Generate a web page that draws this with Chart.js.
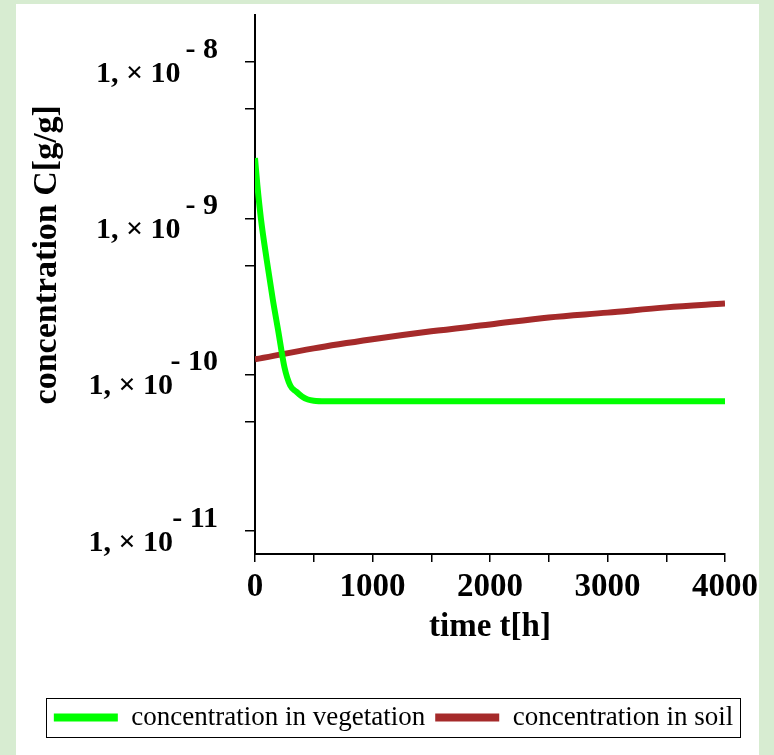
<!DOCTYPE html>
<html>
<head>
<meta charset="utf-8">
<script src="https://cdn.jsdelivr.net/npm/chart.js@4/dist/chart.umd.min.js"></script>
<style>
  html, body { margin: 0; padding: 0; }
  body { width: 774px; height: 755px; background: #d7ecd1; position: relative; overflow: hidden; }
  #panel { position: absolute; left: 16px; top: 4px; width: 743px; height: 751px; background: #fff; }
  #wrap { position: absolute; left: 16px; top: 4px; width: 758px; height: 751px; }
</style>
</head>
<body>
<div id="panel"></div>
<div id="wrap"><canvas id="concChart" width="758" height="751"></canvas></div>
<script>
// time in hours, concentrations in g/g
const vegTime = [0, 20, 50, 100, 150, 200, 250, 300, 350, 400, 450, 500, 600, 1000, 2000, 3000, 4000];
const vegConc = [2.43e-9, 1.63e-9, 1.0e-9, 5.4e-10, 3.07e-10, 1.86e-10, 1.12e-10, 8.5e-11, 7.78e-11,
                 7.23e-11, 6.92e-11, 6.80e-11, 6.75e-11, 6.75e-11, 6.75e-11, 6.75e-11, 6.75e-11];

const soilTime = [0, 500, 1000, 1500, 2000, 2500, 3000, 3500, 4000];
const soilConc = [1.25e-10, 1.47e-10, 1.68e-10, 1.89e-10, 2.09e-10, 2.32e-10, 2.49e-10, 2.69e-10, 2.85e-10];

const seriesNames = ['concentration in vegetation', 'concentration in soil'];
const yTickValues = [1e-11, 5e-11, 1e-10, 5e-10, 1e-9, 5e-9, 1e-8];
const xTitle = 'time t[h]';
const yTitle = 'concentration C[g/g]';

const serif = "'Liberation Serif', 'Times New Roman', serif";

function toPoints(xs, ys) {
    return xs.map((x, i) => ({ x: x, y: ys[i] }));
}

// move the legend so it sits under the middle of the white panel
const legendShift = {
    id: 'legendShift',
    afterLayout(chart) {
        chart.legend.left += 23;
        chart.legend.right += 23;
    }
};

// black frame round the legend
const legendFrame = {
    id: 'legendFrame',
    afterDraw(chart) {
        const boxes = chart.legend.legendHitBoxes;
        if (!boxes || !boxes.length) return;
        const first = boxes[0];
        const last = boxes[boxes.length - 1];
        const ctx = chart.ctx;
        ctx.save();
        ctx.strokeStyle = '#000';
        ctx.lineWidth = 1;
        const x0 = Math.round(first.left - 8) + 0.5;
        const x1 = Math.round(last.left + last.width + 7) + 0.5;
        const y0 = Math.round(first.top - 6) + 0.5;
        const y1 = Math.round(first.top + first.height + 6) + 0.5;
        ctx.strokeRect(x0, y0, x1 - x0, y1 - y0);
        ctx.restore();
    }
};

function renderChart() {
    const ctx = document.getElementById('concChart');

    new Chart(ctx, {
        type: 'line',
        data: {
            datasets: [{
                label: seriesNames[0],
                data: toPoints(vegTime, vegConc),
                borderColor: '#00ff00',
                backgroundColor: '#00ff00',
                borderWidth: 6,
                pointRadius: 0,
                cubicInterpolationMode: 'monotone'
            }, {
                label: seriesNames[1],
                data: toPoints(soilTime, soilConc),
                borderColor: '#a52a2a',
                backgroundColor: '#a52a2a',
                borderWidth: 6,
                pointRadius: 0,
                cubicInterpolationMode: 'monotone'
            }]
        },
        options: {
            responsive: false,
            animation: false,
            devicePixelRatio: 1,
            layout: {
                padding: { top: 11, right: 49, bottom: 14, left: 0 }
            },
            scales: {
                x: {
                    type: 'linear',
                    min: 0,
                    max: 4000,
                    afterFit: (s) => { s.height = 140; s.paddingLeft = 0; s.paddingRight = 0; },
                    border: { display: true, color: '#000', width: 2 },
                    grid: { drawOnChartArea: false, color: '#000', lineWidth: 1.5, tickLength: 8 },
                    ticks: {
                        stepSize: 500,
                        autoSkip: false,
                        maxRotation: 0,
                        padding: 6,
                        color: '#000',
                        font: { family: serif, size: 33, weight: 'bold' },
                        callback: (v) => (v % 1000 === 0 ? String(v) : '')
                    },
                    title: {
                        display: true,
                        text: xTitle,
                        color: '#000',
                        font: { family: serif, size: 33, weight: 'bold' },
                        padding: { top: 0, bottom: 47 }
                    }
                },
                y: {
                    type: 'logarithmic',
                    min: 7.1e-12,
                    max: 2e-8,
                    afterFit: (s) => { s.width = 239; s.paddingTop = 0; s.paddingBottom = 0; },
                    afterBuildTicks: (s) => { s.ticks = yTickValues.map(v => ({ value: v })); },
                    border: { display: true, color: '#000', width: 2 },
                    grid: { drawOnChartArea: false, color: '#000', lineWidth: 1.5, tickLength: 10 },
                    ticks: {
                        autoSkip: false,
                        padding: 27,
                        color: '#000',
                        font: { family: serif, size: 30, weight: 'bold', lineHeight: 0.8 },
                        callback: (v) => {
                            const e = Math.round(Math.log10(v));
                            if (Math.abs(v - Math.pow(10, e)) > Math.pow(10, e) * 1e-6) return '';
                            const exp = '- ' + String(-e);
                            return [exp, '1, \u00d7 10' + ' '.repeat(exp.length + 2)];
                        }
                    },
                    title: {
                        display: true,
                        text: '       ' + yTitle,
                        color: '#000',
                        font: { family: serif, size: 34, weight: 'bold' },
                        padding: { top: 11, bottom: 0 }
                    }
                }
            },
            plugins: {
                legend: {
                    position: 'bottom',
                    labels: {
                        boxWidth: 64,
                        boxHeight: 8,
                        padding: 10,
                        color: '#000',
                        font: { family: serif, size: 27 },
                        generateLabels: (chart) =>
                            Chart.defaults.plugins.legend.labels.generateLabels(chart)
                                .map(l => Object.assign(l, { lineWidth: 0 }))
                    }
                },
                tooltip: { enabled: false }
            }
        },
        plugins: [legendShift, legendFrame]
    });
}

renderChart();
</script>
</body>
</html>
